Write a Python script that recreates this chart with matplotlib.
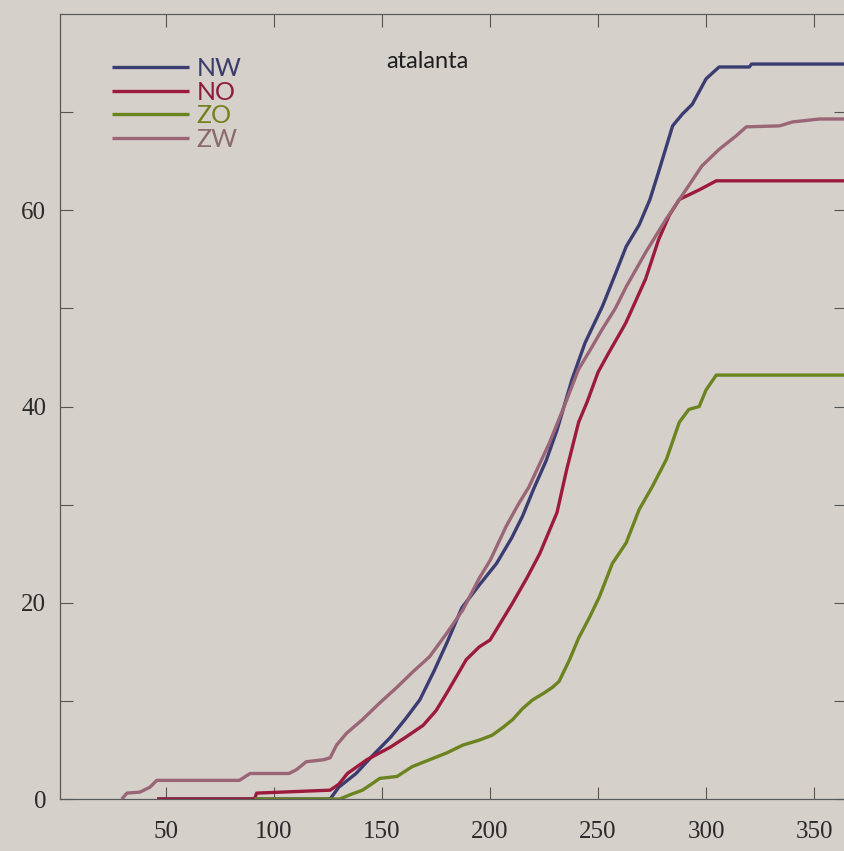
import matplotlib
matplotlib.use("Agg")
import matplotlib.pyplot as plt
from matplotlib.ticker import FixedLocator

# ---- data (day of year, cumulative value) ----
nw_days = [46, 126, 130, 138, 146, 154, 161, 167.5, 174, 180, 187, 195, 203, 210, 215, 220, 226, 231,
           238, 244, 252, 258, 263, 269, 274, 278, 284.5, 289, 293.6, 300, 306, 320, 321, 364]
nw_vals = [0, 0, 1.2, 2.6, 4.5, 6.3, 8.2, 10.1, 13, 15.9, 19.5, 21.8, 24.0, 26.6, 28.8, 31.5, 34.5, 37.6,
           42.8, 46.5, 50.2, 53.5, 56.3, 58.5, 61.1, 63.9, 68.6, 69.8, 70.8, 73.4, 74.6, 74.6, 74.9, 74.9]

no_days = [46, 91, 92, 126, 130, 134, 143, 154, 161, 169, 175, 180, 189, 195, 200, 205, 210.5, 217, 223,
           231, 235.5, 241, 245, 250, 255, 261, 263, 272, 278, 283, 287.6, 297, 304.7, 364]
no_vals = [0, 0, 0.6, 0.9, 1.5, 2.6, 4, 5.3, 6.3, 7.5, 9, 10.8, 14.2, 15.5, 16.2, 18, 20, 22.5, 25,
           29.2, 33.6, 38.4, 40.5, 43.5, 45.5, 47.8, 48.6, 53, 57, 59.5, 61.1, 62.1, 63, 63]

zo_days = [91, 130.5, 136, 141, 149, 157, 164, 172, 180, 187.5, 195, 201, 206, 210.5, 215, 219.7, 225,
           229, 232, 236.8, 241, 246, 250.6, 256.6, 263, 269, 275, 281.6, 287.6, 292, 296.8, 300, 304.7, 364]
zo_vals = [0, 0, 0.5, 0.9, 2.1, 2.3, 3.3, 4, 4.7, 5.5, 6, 6.5, 7.3, 8.1, 9.2, 10.1, 10.8,
           11.4, 12, 14.2, 16.4, 18.5, 20.6, 24, 26.1, 29.5, 31.8, 34.6, 38.4, 39.7, 40, 41.7, 43.2, 43.2]

zw_days = [29.6, 32, 38, 42.6, 45.8, 84, 89, 107, 110.5, 115, 123, 126, 129, 133.6, 141, 149, 157, 164,
           172, 180, 187.5, 195, 200, 207.5, 213, 218, 227.5, 235, 241, 247, 252, 258, 263, 272, 281.5,
           290.7, 298, 306, 314, 318.6, 334, 340, 352.5, 364]
zw_vals = [0, 0.6, 0.7, 1.2, 1.9, 1.9, 2.6, 2.6, 3, 3.8, 4, 4.2, 5.5, 6.7, 8.1, 9.8, 11.4, 12.9,
           14.5, 16.9, 19.3, 22.5, 24.3, 27.8, 30, 31.8, 36.3, 40.4, 43.8, 46, 47.9, 50, 52.2, 55.7, 59.1,
           62.1, 64.5, 66.2, 67.6, 68.5, 68.6, 69, 69.3, 69.3]

series_names = ["NW", "NO", "ZO", "ZW"]
title_text = "atalanta"
x_ticks = [50, 100, 150, 200, 250, 300, 350]
y_ticks = [0, 20, 40, 60]
y_minor = [10, 30, 50, 70]

# ---- styling ----
bg = "#d5d0ca"
line_colors = ["#3a3c72", "#9c1a3c", "#6b8420", "#9a6677"]
text_colors = ["#3a3c6a", "#8e1a3e", "#77801e", "#8c6a6c"]

fig = plt.figure(figsize=(8.44, 8.51), dpi=100, facecolor=bg)
W, H = 844, 851
left_px, right_px, top_px, bot_px = 60, 845.5, 14, 799
ax = fig.add_axes([left_px / W, 1 - bot_px / H, (right_px - left_px) / W, (bot_px - top_px) / H])
ax.set_facecolor(bg)

data = [(nw_days, nw_vals), (no_days, no_vals), (zo_days, zo_vals), (zw_days, zw_vals)]
handles = []
for (d, v), c, name in zip(data, line_colors, series_names):
    h, = ax.plot(d, v, color=c, lw=2.4, solid_capstyle="butt", solid_joinstyle="round", label=name)
    handles.append(h)

ax.set_xlim(1, 364.5)
ax.set_ylim(0, 80)

ax.xaxis.set_major_locator(FixedLocator(x_ticks))
ax.yaxis.set_major_locator(FixedLocator(y_ticks))
ax.yaxis.set_minor_locator(FixedLocator(y_minor))

tick_font = {"family": "Liberation Serif", "size": 18}
ax.set_xticklabels([str(t) for t in x_ticks], fontdict=tick_font, color="#2a2a2a")
ax.set_yticklabels([str(t) for t in y_ticks], fontdict=tick_font, color="#2a2a2a")

ax.tick_params(axis="both", which="both", direction="in", length=9, width=0.8,
               color="#555555", top=True, right=True)
ax.tick_params(axis="x", pad=16)
ax.tick_params(axis="y", pad=10)

for s in ax.spines.values():
    s.set_color("#5a5a5a")
    s.set_linewidth(0.9)

ax.text(0.415, 0.931, title_text, transform=ax.transAxes, fontsize=17,
        family="Lato", color="#1e1e1e", va="baseline", ha="left")

leg = ax.legend(handles=handles, loc="upper left", bbox_to_anchor=(0.066, 0.945),
                frameon=False, prop={"family": "Lato", "size": 18},
                handlelength=3.1, handletextpad=0.3, labelspacing=0.02,
                borderpad=0, borderaxespad=0)
for t, c in zip(leg.get_texts(), text_colors):
    t.set_color(c)

fig.savefig("out.png", dpi=100, facecolor=bg)
